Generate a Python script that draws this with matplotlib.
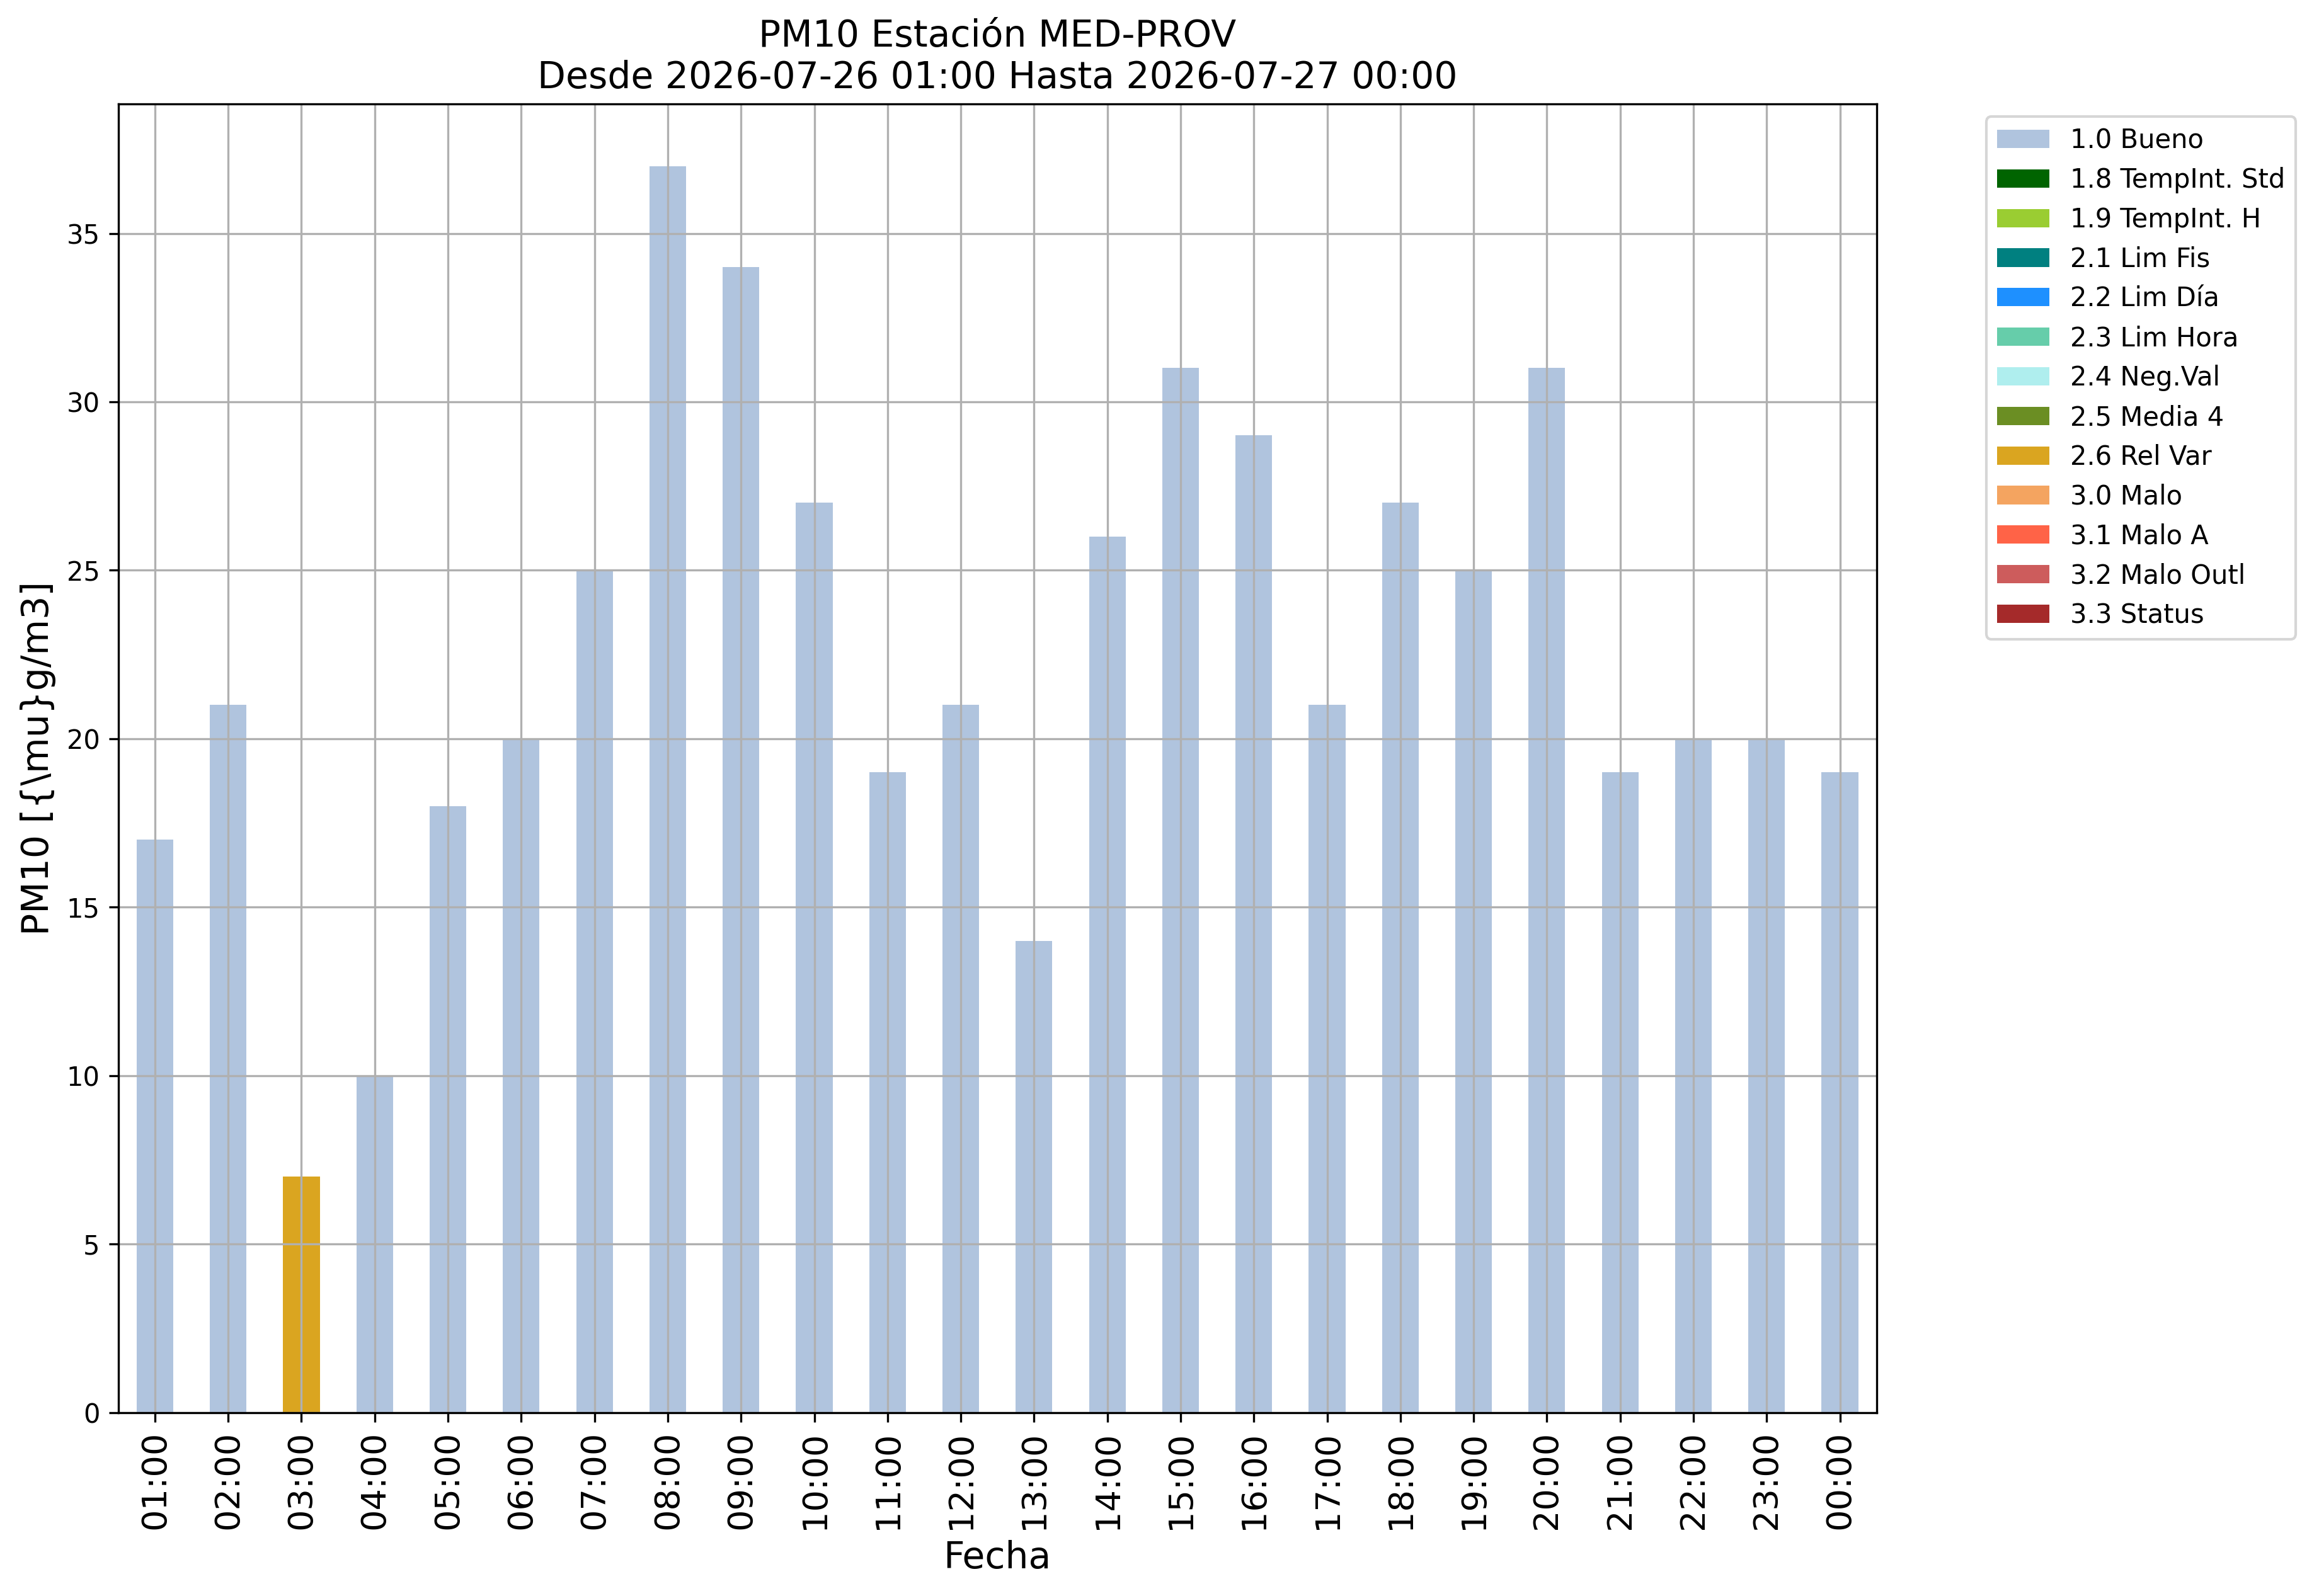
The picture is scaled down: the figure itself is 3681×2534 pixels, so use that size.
import numpy as np
import matplotlib
matplotlib.use("Agg")
import matplotlib.pyplot as plt

hours = ["01:00", "02:00", "03:00", "04:00", "05:00", "06:00", "07:00", "08:00",
         "09:00", "10:00", "11:00", "12:00", "13:00", "14:00", "15:00", "16:00",
         "17:00", "18:00", "19:00", "20:00", "21:00", "22:00", "23:00", "00:00"]
pm10 = [17, 21, 7, 10, 18, 20, 25, 37, 34, 27, 19, 21, 14, 26, 31, 29,
        21, 27, 25, 31, 19, 20, 20, 19]
# validation flag of each hour
flags = ["1.0 Bueno"] * 24
flags[2] = "2.6 Rel Var"

flag_names = ["1.0 Bueno", "1.8 TempInt. Std", "1.9 TempInt. H", "2.1 Lim Fis",
              "2.2 Lim Día", "2.3 Lim Hora", "2.4 Neg.Val", "2.5 Media 4",
              "2.6 Rel Var", "3.0 Malo", "3.1 Malo A", "3.2 Malo Outl", "3.3 Status"]
flag_colors = ["lightsteelblue", "darkgreen", "yellowgreen", "teal", "dodgerblue",
               "mediumaquamarine", "paleturquoise", "olivedrab", "goldenrod",
               "sandybrown", "tomato", "indianred", "brown"]

fig, ax = plt.subplots(figsize=(12.273, 8.447), dpi=300)
fig.subplots_adjust(left=0.051, right=0.809, top=0.935, bottom=0.115)

x = np.arange(len(hours))
bottom = np.zeros(len(hours))
for name, color in zip(flag_names, flag_colors):
    vals = np.array([v if f == name else 0 for v, f in zip(pm10, flags)], dtype=float)
    ax.bar(x, vals, width=0.5, bottom=bottom, color=color, label=name)
    bottom += vals

ax.set_xlim(-0.5, len(hours) - 0.5)
ax.set_ylim(0, max(pm10) * 1.05)
ax.set_xticks(x)
ax.set_xticklabels(hours, rotation=90, fontsize=13)
ax.tick_params(axis="y", labelsize=10)
ax.grid(True)
ax.set_xlabel("Fecha", fontsize=14)
ax.set_ylabel("PM10 [{\\mu}g/m3]", fontsize=14)
ax.set_title("PM10 Estación MED-PROV\nDesde 2026-07-26 01:00 Hasta 2026-07-27 00:00", fontsize=14)
ax.legend(bbox_to_anchor=(1.055, 1), loc="upper left", fontsize=10)

fig.savefig("out.png", dpi=300)
